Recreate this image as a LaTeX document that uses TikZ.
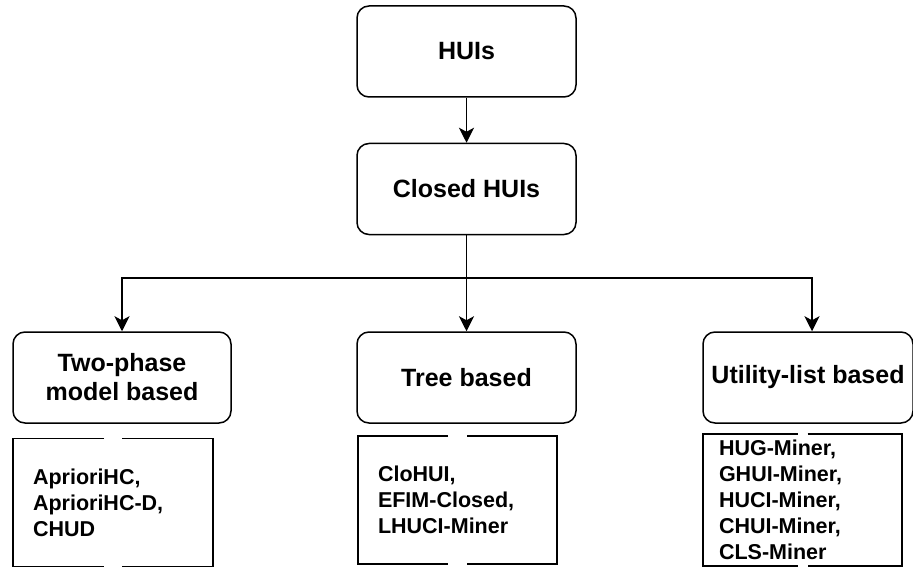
\documentclass[tikz,border=0pt]{standalone}
\usepackage{fontspec}
\setmainfont{Liberation Sans}
\usetikzlibrary{arrows.meta}
\tikzset{
  catbox/.style={draw, rounded corners=12pt, line width=1.5pt, minimum width=219pt, minimum height=91pt, align=center, font=\bfseries\fontsize{25}{29}\selectfont},
  listbox/.style={minimum height=128pt, text width=160pt, inner xsep=20pt, align=left, font=\bfseries\fontsize{21.5}{26}\selectfont},
  link/.style={-{Stealth[length=15pt,width=15pt,inset=4pt]}, line width=1.5pt},
}
\begin{document}
\begin{tikzpicture}[x=1pt,y=-1pt]
	\useasboundingbox (0,0) rectangle (913,567);
	\node[catbox] (huis) at (466.5,51.5) {HUIs};
	\node[catbox] (closed) at (466.5,189) {Closed HUIs};
	\node[catbox, minimum width=218pt] (twophase) at (122,377.5) {Two-phase\\model based};
	\node[catbox] (tree) at (466.5,377.5) {Tree based};
	\node[catbox, minimum width=210pt] (util) at (808,377.5) {Utility-list based};
	\node[listbox] (apr) at (113,502.5) {AprioriHC,\\AprioriHC-D,\\CHUD};
	\node[listbox, text width=159pt] (clo) at (457.5,500) {CloHUI,\\EFIM-Closed,\\LHUCI-Miner};
	\node[listbox, text width=167pt, inner xsep=16pt, minimum height=132pt] (hug) at (802.5,500) {HUG-Miner,\\GHUI-Miner,\\HUCI-Miner,\\CHUI-Miner,\\CLS-Miner};
	\coordinate (split) at (466.5,278);
	\draw[link] (huis) -- (closed);
	\draw[link] (closed) -- (tree);
	\draw[link] (split) -| (twophase.north);
	\draw[link] (split) -| ([xshift=4pt]util.north);
	\foreach \n/\g in {apr/9pt, clo/9.5pt, hug/5pt}
		\draw[line width=1.5pt] ([xshift=-\g]\n.north) -| (\n.south west) -- ([xshift=-\g]\n.south)
			([xshift=\g]\n.north) -| (\n.south east) -- ([xshift=\g]\n.south);
\end{tikzpicture}
\end{document}
